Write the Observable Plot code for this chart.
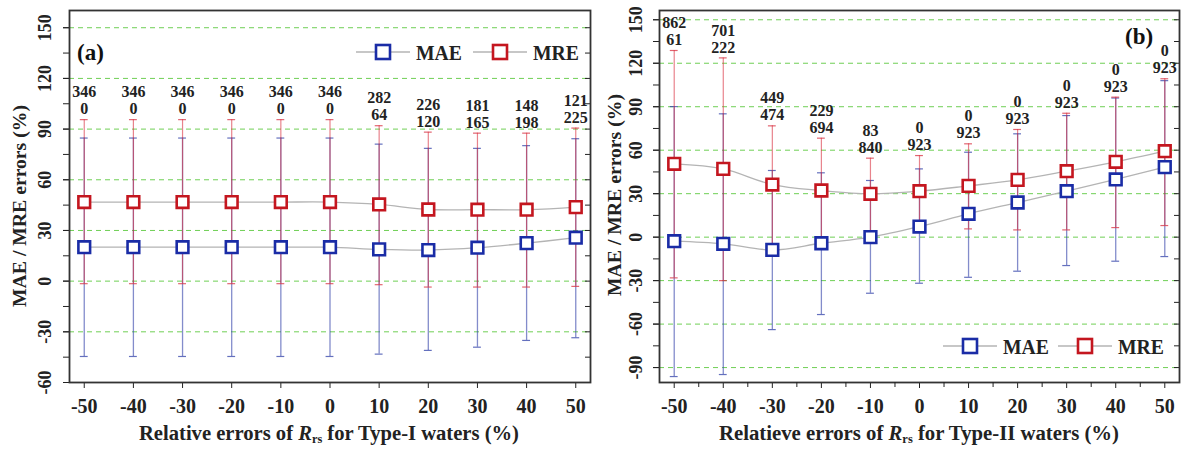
<!DOCTYPE html>
<html><head><meta charset="utf-8">
<script src="https://cdn.jsdelivr.net/npm/d3@7"></script>
<script src="https://cdn.jsdelivr.net/npm/@observablehq/plot@0.6"></script>
<style>
body{margin:0;background:#fff}
#wrap{display:flex;width:1183px;height:453px}
svg{font-family:"Liberation Serif",serif}
</style>
</head><body><div id="wrap"></div>
<script>
// ---- data ----
const errors = [-50,-40,-30,-20,-10,0,10,20,30,40,50];

// Panel (a) Type-I waters
const maeA   = [20.1,20.1,20.1,20.1,20.1,20.1,18.8,18.4,19.8,22.5,25.7];
const maeAHi = [84.7,84.7,84.7,84.7,84.7,84.7,81.1,78.6,78.6,80.2,84.3];
const maeALo = [-44.6,-44.6,-44.6,-44.6,-44.6,-44.6,-43.2,-41.0,-39.1,-35.1,-33.5];
const mreA   = [46.8,46.8,46.8,46.8,46.8,46.8,45.4,42.4,42.3,42.3,43.8];
const mreAHi = [95.6,95.6,95.6,95.6,95.6,95.6,92.0,88.2,87.6,87.6,90.6];
const mreALo = [-1.5,-1.5,-1.5,-1.5,-1.5,-1.5,-2.1,-3.5,-3.5,-3.5,-3.1];
const countTopA = [346,346,346,346,346,346,282,226,181,148,121];
const countBotA = [0,0,0,0,0,0,64,120,165,198,225];

// Panel (b) Type-II waters
const maeB   = [-2.8,-4.6,-8.8,-4.2,0,7.3,16.1,23.9,31.7,39.8,48.3];
const maeBHi = [90.1,85.1,46.0,44.4,39.1,47.1,58.6,71.3,83.9,96.0,108.0];
const maeBLo = [-96.2,-94.8,-63.8,-53.4,-38.7,-31.8,-27.7,-23.5,-19.6,-16.6,-13.4];
const mreB   = [50.6,47.1,36.3,32.2,29.9,31.7,35.4,39.5,45.5,52.0,59.3];
const mreBHi = [128.8,123.7,76.8,68.3,54.5,56.3,64.4,74.3,85.5,96.6,109.3];
const mreBLo = [-28.1,-30.0,-7.0,-3.0,1.0,5.0,5.7,5.0,5.0,6.6,8.0];
const countTopB = [862,701,449,229,83,0,0,0,0,0,0];
const countBotB = [61,222,474,694,840,923,923,923,923,923,923];

const yTicksA = [-60,-30,0,30,60,90,120,150];
const yTicksB = [-90,-60,-30,0,30,60,90,120,150];
const xLabelA = ["Relative errors of ", "R", "rs", " for Type-I waters (%)"];
const xLabelB = ["Relatieve errors of ", "R", "rs", " for Type-II waters (%)"];
const yLabel = "MAE / MRE errors (%)";
const seriesNames = ["MAE", "MRE"];

// ---- styles ----
const C_MAE = "#1a2ca6", C_MRE = "#c4161f";
const C_MAE_BAR = "#3040a8", C_MRE_BAR = "#d83040";
const GRID = "#6fcf55";

function panel(cfg) {
  const rows = errors.map((x, i) => ({
    x, mae: cfg.mae[i], maeHi: cfg.maeHi[i], maeLo: cfg.maeLo[i],
    mre: cfg.mre[i], mreHi: cfg.mreHi[i], mreLo: cfg.mreLo[i],
    top: String(cfg.top[i]), bot: String(cfg.bot[i])
  }));
  const minorY = d3.range(cfg.yDomain[0] - (cfg.yDomain[0] % 15), cfg.yDomain[1], 15).filter(v => v >= cfg.yDomain[0]);
  const capHalf = 0.8;
  const marks = [
    Plot.gridY(cfg.yTicks.filter(v => v > cfg.yDomain[0]), {stroke: GRID, strokeOpacity: 1, strokeDasharray: "5,4", strokeWidth: 1}),
    // error bars
    Plot.ruleX(rows, {x: "x", y1: "maeLo", y2: "maeHi", stroke: C_MAE_BAR, strokeOpacity: 0.6, strokeWidth: 1.3}),
    Plot.ruleY(rows, {y: "maeHi", x1: d => d.x - capHalf, x2: d => d.x + capHalf, stroke: C_MAE_BAR, strokeOpacity: 0.75, strokeWidth: 1.2}),
    Plot.ruleY(rows, {y: "maeLo", x1: d => d.x - capHalf, x2: d => d.x + capHalf, stroke: C_MAE_BAR, strokeOpacity: 0.75, strokeWidth: 1.2}),
    Plot.ruleX(rows, {x: "x", y1: "mreLo", y2: "mreHi", stroke: C_MRE_BAR, strokeOpacity: 0.6, strokeWidth: 1.2}),
    Plot.ruleY(rows, {y: "mreHi", x1: d => d.x - capHalf, x2: d => d.x + capHalf, stroke: C_MRE_BAR, strokeOpacity: 0.75, strokeWidth: 1.2}),
    Plot.ruleY(rows, {y: "mreLo", x1: d => d.x - capHalf, x2: d => d.x + capHalf, stroke: C_MRE_BAR, strokeOpacity: 0.75, strokeWidth: 1.2}),
    // connecting lines
    Plot.line(rows, {x: "x", y: "mae", stroke: "#b4b4b4", strokeWidth: 1.3, curve: "catmull-rom"}),
    Plot.line(rows, {x: "x", y: "mre", stroke: "#b4b4b4", strokeWidth: 1.3, curve: "catmull-rom"}),
    // markers
    Plot.dot(rows, {x: "x", y: "mae", symbol: "square", r: 6.6, fill: "white", stroke: C_MAE, strokeWidth: 2.6}),
    Plot.dot(rows, {x: "x", y: "mre", symbol: "square", r: 6.6, fill: "white", stroke: C_MRE, strokeWidth: 2.6}),
    // counts
    Plot.text(rows, {x: "x", y: "mreHi", text: "top", dy: -27.5, fontSize: 16, fontWeight: "bold", fill: "#222"}),
    Plot.text(rows, {x: "x", y: "mreHi", text: "bot", dy: -10.5, fontSize: 16, fontWeight: "bold", fill: "#222"}),
    // axes
    Plot.axisX(errors, {tickSize: 6, tickPadding: 10, fontSize: 20, fontWeight: "bold", tickFormat: d => String(d), label: null, stroke: "#222", fill: "#222"}),
    Plot.axisY(cfg.yTicks, {tickSize: 6, tickFormat: () => "", label: null, stroke: "#222"}),
    Plot.axisY(minorY, {tickSize: 6, tickFormat: () => "", label: null, stroke: "#222"}),
    Plot.axisY(minorY, {anchor: "right", tickSize: 6, dx: -6, tickFormat: () => "", label: null, stroke: "#222"}),
    Plot.text(cfg.yTicks, {x: cfg.xDomain[0], y: d => d, text: d => String(d), rotate: -90, dx: -cfg.tickOff, fontSize: 18, fontWeight: "bold", fill: "#222"}),
    Plot.frame({stroke: "#333", strokeWidth: 1.8})
  ];
  if (cfg.minorX) marks.push(Plot.axisX(cfg.minorX, {tickSize: 5, tickFormat: () => "", label: null, stroke: "#222"}));
  const svg = Plot.plot({
    width: cfg.width, height: 453,
    marginLeft: cfg.ml, marginRight: cfg.mr, marginTop: 10, marginBottom: 71,
    x: {domain: cfg.xDomain},
    y: {domain: cfg.yDomain},
    style: {fontFamily: "Liberation Serif", background: "white", overflow: "visible"},
    marks
  });
  const s = d3.select(svg);
  // x label with italic R and subscript rs
  const xl = s.append("text").attr("x", cfg.xlX).attr("y", 440).attr("text-anchor", "middle")
    .attr("font-size", 20).attr("font-weight", "bold").attr("fill", "#222")
    .attr("textLength", cfg.xlLen).attr("lengthAdjust", "spacingAndGlyphs");
  xl.append("tspan").text(cfg.xLabel[0]);
  xl.append("tspan").attr("font-style", "italic").text(cfg.xLabel[1]);
  xl.append("tspan").attr("font-size", 12).attr("dy", 3).text(cfg.xLabel[2]);
  xl.append("tspan").attr("dy", -3).text(cfg.xLabel[3]);
  // y label
  s.append("text").attr("transform", `translate(${cfg.ylX},${cfg.ylY}) rotate(-90)`).attr("text-anchor", "middle")
    .attr("dy", "0.35em").attr("font-size", 19).attr("font-weight", "bold").attr("fill", "#222")
    .attr("textLength", 202).attr("lengthAdjust", "spacingAndGlyphs").text(yLabel);
  // panel letter
  s.append("text").attr("x", cfg.letter[1]).attr("y", cfg.letter[2]).attr("font-size", 23)
    .attr("text-anchor", "start").attr("font-weight", "bold").attr("fill", "#111").text(cfg.letter[0]);
  // legend
  const lg = s.append("g");
  const colors = [C_MAE, C_MRE];
  cfg.legend.forEach((cx, i) => {
    const y = cfg.legendY;
    lg.append("line").attr("x1", cx - 27).attr("x2", cx + 27).attr("y1", y).attr("y2", y).attr("stroke", "#b4b4b4").attr("stroke-width", 1.3);
    lg.append("rect").attr("x", cx - 7).attr("y", y - 7).attr("width", 14).attr("height", 14)
      .attr("fill", "white").attr("stroke", colors[i]).attr("stroke-width", 2.6);
    lg.append("text").attr("x", cx + 33).attr("y", y).attr("dy", "0.36em").attr("font-size", 21)
      .attr("text-anchor", "start").attr("font-weight", "bold").attr("fill", "#222")
      .attr("textLength", 46).attr("lengthAdjust", "spacingAndGlyphs").text(seriesNames[i]);
  });
  return svg;
}

const wrap = document.getElementById("wrap");
wrap.appendChild(panel({
  width: 595, ml: 69, mr: 5, xDomain: [-53, 53], yDomain: [-60, 160.2], yTicks: yTicksA,
  mae: maeA, maeHi: maeAHi, maeLo: maeALo, mre: mreA, mreHi: mreAHi, mreLo: mreALo,
  top: countTopA, bot: countBotA, tickOff: 24,
  xLabel: xLabelA, xlX: 329, xlLen: 380, ylX: 19, ylY: 206,
  letter: ["(a)", 77, 60], legend: [383, 500], legendY: 52
}));
wrap.appendChild(panel({
  width: 588, ml: 64, mr: 4, xDomain: [-53, 53], yDomain: [-100.3, 156.4], yTicks: yTicksB,
  minorX: [-45,-35,-25,-15,-5,5,15,25,35,45],
  mae: maeB, maeHi: maeBHi, maeLo: maeBLo, mre: mreB, mreHi: mreBHi, mreLo: mreBLo,
  top: countTopB, bot: countBotB, tickOff: 23,
  xLabel: xLabelB, xlX: 324, xlLen: 400, ylX: 19, ylY: 195,
  letter: ["(b)", 530, 44], legend: [375, 490], legendY: 346
}));
</script>
</body></html>
